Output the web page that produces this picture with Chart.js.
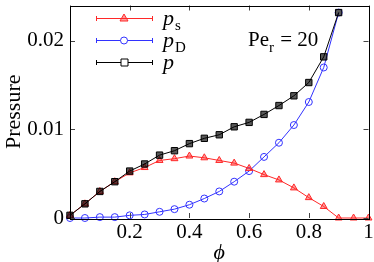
<!DOCTYPE html>
<html>
<head>
<meta charset="utf-8">
<script src="https://cdn.jsdelivr.net/npm/chart.js@4.4.0/dist/chart.umd.min.js"></script>
<style>
  html, body { margin: 0; padding: 0; background: #fff; }
  #wrap { width: 374px; height: 262px; position: relative; }
</style>
</head>
<body>
<div id="wrap"><canvas id="pressureChart"></canvas></div>
<script>
// phi values (volume fraction)
const phi = [0, 0.05, 0.1, 0.15, 0.2, 0.25, 0.3, 0.35, 0.4, 0.45, 0.5,
             0.55, 0.6, 0.65, 0.7, 0.75, 0.8, 0.85, 0.9, 0.95, 1.0];

// swim pressure p_s
const pSwim = [0.0003, 0.0016, 0.0030, 0.0041, 0.0051, 0.0057, 0.0065, 0.0067, 0.0070, 0.0068, 0.0065,
               0.0062, 0.0056, 0.0049, 0.0043, 0.0034, 0.0023, 0.0013, 0, 0, 0];

// direct pressure p_D (up to phi = 0.9)
const pDirect = [0, 0, 0.0001, 0.0001, 0.0003, 0.0004, 0.0007, 0.0010, 0.0015, 0.0022, 0.0030,
                 0.0041, 0.0053, 0.0069, 0.0085, 0.0105, 0.0131, 0.0170, 0.0232];

// total pressure p (up to phi = 0.9)
const pTotal = [0.0003, 0.0016, 0.0030, 0.0041, 0.0053, 0.0061, 0.0071, 0.0076, 0.0084, 0.0090, 0.0094,
                0.0103, 0.0108, 0.0117, 0.0127, 0.0138, 0.0153, 0.0182, 0.0232];

const xTicks = [0, 0.2, 0.4, 0.6, 0.8, 1];
const yTicks = [0, 0.01, 0.02];

const RED = 'rgb(255,40,40)';
const BLUE = 'rgb(50,50,255)';
const BLACK = 'rgb(0,0,0)';
const SERIF = '"Liberation Serif", "DejaVu Serif", serif';

function toPoints(ys) {
    return ys.map((y, i) => ({ x: phi[i], y: y }));
}

// inward ticks on all four sides + closed frame
const frameTicks = {
    id: 'frameTicks',
    afterDraw(chart) {
        const ctx = chart.ctx;
        const a = chart.chartArea;
        const xs = chart.scales.x, ys = chart.scales.y;
        ctx.save();
        ctx.strokeStyle = '#444';
        ctx.lineWidth = 1;
        ctx.beginPath();
        xs.ticks.forEach(t => {
            const px = Math.round(xs.getPixelForValue(t.value)) + 0.5;
            ctx.moveTo(px, a.bottom); ctx.lineTo(px, a.bottom - 5);
            ctx.moveTo(px, a.top); ctx.lineTo(px, a.top + 5);
        });
        ys.ticks.forEach(t => {
            const py = Math.round(ys.getPixelForValue(t.value)) + 0.5;
            ctx.moveTo(a.left, py); ctx.lineTo(a.left + 5, py);
            ctx.moveTo(a.right, py); ctx.lineTo(a.right - 5, py);
        });
        ctx.stroke();
        ctx.strokeStyle = '#000';
        ctx.strokeRect(Math.round(a.left) + 0.5, Math.round(a.top) + 0.5,
                       Math.round(a.right - a.left), Math.round(a.bottom - a.top));
        ctx.restore();
    }
};

// legend with error-bar style caps and italic subscripted labels, plus the Pe_r note
const notes = {
    id: 'notes',
    afterDraw(chart) {
        const ctx = chart.ctx;
        const rows = [
            { color: RED, marker: 'tri', main: 'p', sub: 's', y: 18 },
            { color: BLUE, marker: 'circ', main: 'p', sub: 'D', y: 40 },
            { color: BLACK, marker: 'sq', main: 'p', sub: '', y: 62 }
        ];
        ctx.save();
        rows.forEach(r => {
            ctx.strokeStyle = r.color;
            ctx.lineWidth = 1;
            ctx.beginPath();
            ctx.moveTo(96, r.y + 0.5); ctx.lineTo(152, r.y + 0.5);
            ctx.moveTo(96.5, r.y - 2); ctx.lineTo(96.5, r.y + 3);
            ctx.moveTo(152.5, r.y - 2); ctx.lineTo(152.5, r.y + 3);
            ctx.stroke();
            ctx.beginPath();
            if (r.marker === 'tri') {
                ctx.moveTo(124, r.y - 4); ctx.lineTo(128, r.y + 3); ctx.lineTo(120, r.y + 3); ctx.closePath();
                ctx.fillStyle = 'rgba(255,40,40,0.45)';
            } else if (r.marker === 'circ') {
                ctx.arc(124, r.y + 0.5, 3.5, 0, Math.PI * 2);
                ctx.fillStyle = '#fff';
            } else {
                ctx.rect(121, r.y - 3, 7, 7);
                ctx.fillStyle = '#fff';
            }
            ctx.fill();
            ctx.stroke();
            ctx.fillStyle = '#000';
            ctx.textBaseline = 'alphabetic';
            ctx.font = 'italic 22px ' + SERIF;
            ctx.fillText(r.main, 163, r.y + 7);
            if (r.sub) {
                const w = ctx.measureText(r.main).width;
                ctx.font = '15px ' + SERIF;
                ctx.fillText(r.sub, 163 + w + 1, r.y + 12);
            }
        });
        ctx.fillStyle = '#000';
        ctx.font = '21px ' + SERIF;
        ctx.fillText('Pe', 248, 46);
        let w = ctx.measureText('Pe').width;
        ctx.font = '15px ' + SERIF;
        ctx.fillText('r', 248 + w, 52);
        const w2 = ctx.measureText('r').width;
        ctx.font = '21px ' + SERIF;
        ctx.fillText(' = 20', 248 + w + w2 + 1, 46);
        ctx.restore();
    }
};

const ctx = document.getElementById('pressureChart').getContext('2d');
new Chart(ctx, {
    type: 'scatter',
    data: {
        datasets: [
            {
                label: 'p',
                data: toPoints(pTotal),
                showLine: true,
                borderColor: BLACK,
                borderWidth: 1,
                pointStyle: 'rect',
                pointRadius: 4.5,
                pointBorderWidth: 1,
                pointBorderColor: BLACK,
                pointBackgroundColor: 'rgba(0,0,0,0.65)',
                order: 0
            },
            {
                label: 'p_s',
                data: toPoints(pSwim),
                showLine: true,
                borderColor: RED,
                borderWidth: 1,
                pointStyle: 'triangle',
                pointRadius: 4,
                pointBorderWidth: 1,
                pointBorderColor: RED,
                pointBackgroundColor: 'rgba(255,40,40,0.45)',
                order: 1
            },
            {
                label: 'p_D',
                data: toPoints(pDirect),
                showLine: true,
                borderColor: BLUE,
                borderWidth: 1,
                pointStyle: 'circle',
                pointRadius: 3.5,
                pointBorderWidth: 1,
                pointBorderColor: BLUE,
                pointBackgroundColor: 'rgba(255,255,255,0)',
                order: 2
            }
        ]
    },
    options: {
        responsive: true,
        maintainAspectRatio: false,
        animation: false,
        clip: false,
        layout: { padding: { top: 4, right: 5, left: 0, bottom: 0 } },
        plugins: {
            legend: { display: false },
            tooltip: { enabled: false }
        },
        scales: {
            x: {
                type: 'linear',
                min: 0,
                max: 1,
                afterBuildTicks: s => { s.ticks = xTicks.map(v => ({ value: v })); },
                afterFit: s => { s.height = 44; s.paddingLeft = 0; s.paddingRight = 0; },
                grid: { display: false, drawTicks: false },
                border: { display: false },
                ticks: {
                    color: '#000',
                    padding: 2,
                    font: { family: SERIF, size: 21 },
                    callback: v => v === 0 ? '' : String(+v.toFixed(1))
                },
                title: {
                    display: true,
                    text: 'ϕ',
                    color: '#000',
                    padding: { top: 0, bottom: -4 },
                    font: { family: SERIF, size: 22, style: 'italic' }
                }
            },
            y: {
                min: 0,
                max: 0.024,
                afterBuildTicks: s => { s.ticks = yTicks.map(v => ({ value: v })); },
                afterFit: s => { s.width = 70; s.paddingTop = 0; s.paddingBottom = 0; },
                grid: { display: false, drawTicks: false },
                border: { display: false },
                ticks: {
                    color: '#000',
                    padding: 6,
                    font: { family: SERIF, size: 21 },
                    callback: v => String(+v.toFixed(2))
                },
                title: {
                    display: true,
                    text: 'Pressure',
                    color: '#000',
                    padding: { top: 1, bottom: 0 },
                    font: { family: SERIF, size: 22 }
                }
            }
        }
    },
    plugins: [frameTicks, notes]
});
</script>
</body>
</html>
